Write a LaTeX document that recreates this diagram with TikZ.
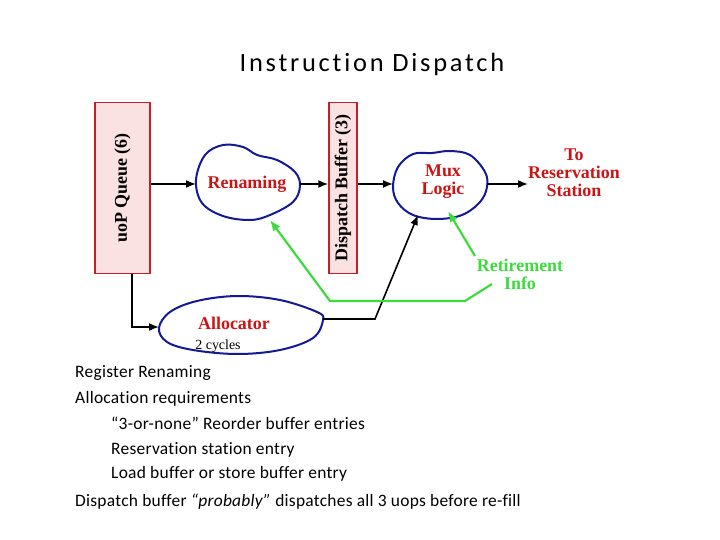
\documentclass[tikz,border=0pt]{standalone}
\usepackage{fontspec}
\setmainfont{Liberation Serif}
\newfontfamily\calfont[Ligatures=NoCommon, LetterSpace=1.5]{Carlito}
\newfontfamily\titlefont[Ligatures=NoCommon, LetterSpace=10.5]{Carlito}
\usetikzlibrary{arrows.meta}
\definecolor{boxred}{RGB}{200,30,40}
\definecolor{boxfill}{RGB}{250,226,226}
\definecolor{txtred}{RGB}{205,20,20}
\definecolor{blobblue}{RGB}{20,25,150}
\definecolor{lgreen}{RGB}{60,220,60}
\tikzset{
  queuebox/.style={draw=boxred, line width=1.5bp, fill=boxfill, rectangle, inner sep=0pt},
  boxlabel/.style={rotate=90, font=\fontsize{18}{18}\selectfont\bfseries},
  redlbl/.style={text=txtred, font=\fontsize{18}{18}\selectfont\bfseries, align=center, inner sep=0pt},
  greenlbl/.style={text=lgreen, font=\fontsize{18}{18}\selectfont\bfseries, align=center, inner sep=0pt},
  blob/.style={draw=blobblue, line width=2bp},
  conn/.style={line width=1.6bp, -{Latex[length=10bp,width=8bp]}},
  gconn/.style={draw=lgreen, line width=2.2bp},
  garrow/.style={draw=lgreen, line width=2.2bp, -{Latex[length=11bp,width=9bp]}},
  bodytxt/.style={anchor=base west, inner sep=0pt, font=\calfont\fontsize{17.5}{18}\selectfont},
}
\begin{document}
\begin{tikzpicture}[x=1bp, y=-1bp]
\useasboundingbox (0,0) rectangle (720,540);
% title
\node[inner sep=0pt, font=\titlefont\fontsize{26.5}{26}\selectfont] (title) at (372,64) {Instruction Dispatch};

% boxes
\node[queuebox, minimum width=55bp, minimum height=171bp] (uop) at (122.5,188) {};
\node[boxlabel] at (uop.center) {uoP Queue (6)};
\node[queuebox, minimum width=28bp, minimum height=171bp] (disp) at (343,188) {};
\node[boxlabel] at (disp.center) {Dispatch Buffer (3)};

% blobs
\draw[blob] plot[smooth cycle, tension=0.6] coordinates {(196,180) (205,155) (223,145) (243,147) (257,155) (277,160) (295,172) (300,186) (293,202) (270,215) (250,220) (223,216) (202,203)};
\node[redlbl] (ren) at (247,184) {Renaming};
\coordinate (renL) at (196,184);
\coordinate (renR) at (300,184);
\coordinate (renB) at (270,220);

\draw[blob] plot[smooth cycle, tension=0.6] coordinates {(393,187) (398,167) (413,154) (432,153) (450,151) (470,155) (485,172) (487,187) (480,202) (462,215) (437,219) (413,215) (398,203)};
\node[redlbl] (mux) at (443,182) {Mux\\Logic};
\coordinate (muxL) at (393,184);
\coordinate (muxR) at (487,184);
\coordinate (muxB) at (418,215);
\coordinate (muxBR) at (448,211);

\draw[blob] plot[smooth cycle, tension=0.6] coordinates {(159,328) (170,312) (197,301) (237,296) (280,300) (317,312) (323,320) (313,338) (280,350) (237,354) (193,350) (167,342)};
\node[redlbl] (alloc) at (234,323) {Allocator};
\node[inner sep=0pt, font=\fontsize{14}{14}\selectfont] (cyc) at (218,346) {2 cycles};
\coordinate (allocL) at (159,327);
\coordinate (allocR) at (323,319);

% labels
\node[redlbl] (rs) at (574,173) {To\\Reservation\\Station};
\coordinate (rsL) at (528,184);
\node[greenlbl] (ret) at (520,274) {Retirement\\Info};

% connectors
\draw[conn] (uop.east |- renL) -- (renL);
\draw[conn] (renR) -- (disp.west |- renR);
\draw[conn] (disp.east |- muxL) -- (muxL);
\draw[conn] (muxR) -- (rsL);
\coordinate (q1) at (132,327);
\draw[conn] (uop.south -| q1) -- (q1) -- (allocL);
\coordinate (a1) at (375,319);
\draw[conn] (allocR) -- (a1) -- (muxB);

% green
\coordinate (g0) at (475,256);
\draw[garrow] (g0) -- (muxBR);
\coordinate (g1) at (492,284);
\coordinate (g2) at (465,301);
\coordinate (g3) at (330,301);
\draw[gconn, -{Latex[length=11bp,width=9bp]}] (g1) -- (g2) -- (g3) -- (renB);

% body text
\node[bodytxt] (t1) at (75,377) {Register Renaming};
\node[bodytxt] (t2) at (75,403) {Allocation requirements};
\node[bodytxt] (t3) at (111,429) {“3-or-none” Reorder buffer entries};
\node[bodytxt] (t4) at (111,454) {Reservation station entry};
\node[bodytxt] (t5) at (111,478) {Load buffer or store buffer entry};
\node[bodytxt] (t6) at (75,506) {Dispatch buffer \textit{“probably”} dispatches all 3 uops before re-fill};
\end{tikzpicture}
\end{document}
